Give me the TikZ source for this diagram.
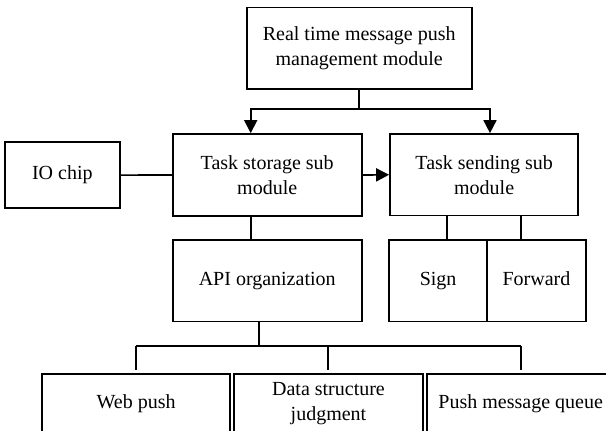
\documentclass[tikz,border=0pt]{standalone}
\usepackage{fontspec}
\setmainfont{Liberation Serif}
\usetikzlibrary{arrows.meta}
\begin{document}
\begin{tikzpicture}[x=1pt,y=-1pt,
  box/.style={draw,line width=1.7pt,inner sep=0pt,align=center,font=\fontsize{20}{25}\selectfont},
  oneline/.style={text height=14pt,text depth=4.5pt},
  conn/.style={line width=1.7pt},
  arr/.style={conn,-{Triangle[length=13pt,width=13pt]}}]
\useasboundingbox (0,0) rectangle (606,431);
\clip (0,0) rectangle (606,431);
% boxes
\node[box,minimum width=225pt,minimum height=81.7pt] (top) at (359.2,48.2) {Real time message push\\management module};
\node[box,oneline,minimum width=115.3pt,minimum height=65.7pt] (io) at (62.35,175.15) {IO chip};
\node[box,minimum width=189pt,minimum height=82pt] (store) at (267.2,175) {Task storage sub\\module};
\node[box,minimum width=188.3pt,minimum height=81.5pt] (send) at (484.15,174.75) {Task sending sub\\module};
\node[box,oneline,minimum width=189pt,minimum height=81.5pt] (api) at (267.2,280.75) {API organization};
\node[box,oneline,minimum width=97.7pt,minimum height=81.5pt] (sign) at (438.15,280.75) {Sign};
\node[box,oneline,minimum width=99pt,minimum height=81.5pt] (fwd) at (536.5,280.75) {Forward};
\node[box,oneline,minimum width=188.3pt,minimum height=59pt] (web) at (136.15,403.8) {Web push};
\node[box,minimum width=188.4pt,minimum height=59pt] (data) at (328.5,403.8) {Data structure\\judgment};
\node[box,oneline,minimum width=188pt,minimum height=59pt] (queue) at (520.7,403.8) {Push message queue};
% junction coordinates
\coordinate (cL) at (250.7,109);
\coordinate (cR) at (490,109);
\coordinate (cS) at (447.3,0);
\coordinate (cF) at (520.7,0);
\coordinate (cA) at (259,346.3);
\coordinate (h1) at (136,346.3);
\coordinate (h2) at (328.3,346.3);
\coordinate (h3) at (520.7,346.3);
% connectors
\draw[arr] (top.south) |- (cL) -- (cL |- store.north);
\draw[arr] (top.south) |- (cR) -- (cR |- send.north);
\draw[conn] (io.east) -- (store.west);
\draw[arr] (store.east) -- (send.west);
\draw[conn] (store.south -| cL) -- (api.north -| cL);
\draw[conn] (send.south -| cS) -- (sign.north -| cS);
\draw[conn] (send.south -| cF) -- (fwd.north -| cF);
\draw[conn] (api.south -| cA) -- (cA);
\draw[conn] (h1) -- (h3);
\draw[conn,shorten >=3pt] (h1) -- (h1 |- web.north);
\draw[conn,shorten >=3pt] (h2) -- (h2 |- data.north);
\draw[conn,shorten >=3pt] (h3) -- (h3 |- queue.north);
\end{tikzpicture}
\end{document}
